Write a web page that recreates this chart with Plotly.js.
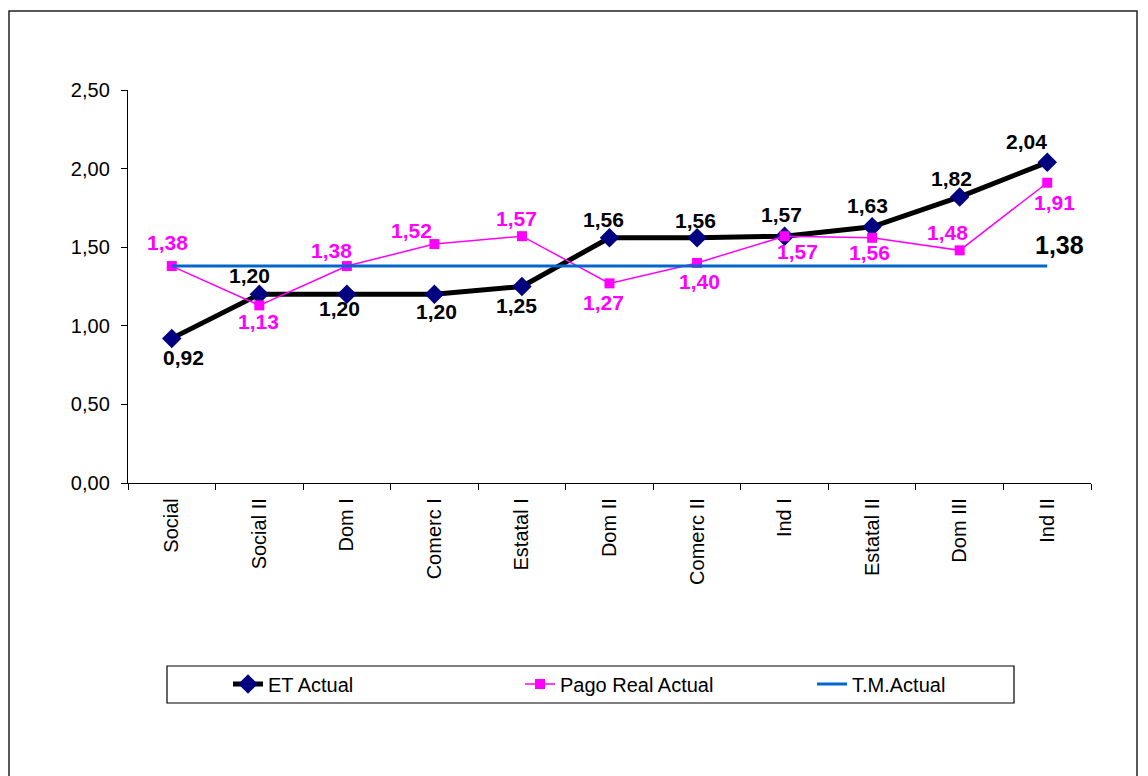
<!DOCTYPE html>
<html>
<head>
<meta charset="utf-8">
<script src="https://cdn.plot.ly/plotly-3.0.1.min.js"></script>
<style>
  html, body { margin: 0; padding: 0; background: #fff; }
  #chart { width: 1148px; height: 776px; }
</style>
</head>
<body>
<div id="chart"></div>
<script>
const categories = ["Social", "Social II", "Dom I", "Comerc I", "Estatal I", "Dom II", "Comerc II", "Ind I", "Estatal II", "Dom III", "Ind II"];
const etActual = [0.92, 1.20, 1.20, 1.20, 1.25, 1.56, 1.56, 1.57, 1.63, 1.82, 2.04];
const pagoRealActual = [1.38, 1.13, 1.38, 1.52, 1.57, 1.27, 1.40, 1.57, 1.56, 1.48, 1.91];
const tmActual = [1.38, 1.38, 1.38, 1.38, 1.38, 1.38, 1.38, 1.38, 1.38, 1.38, 1.38];
const yTicks = [0, 0.5, 1.0, 1.5, 2.0, 2.5];

// label offsets (screen px: dx right, dy down)
const etLabelDx = [12, -10, -7, 2, -5, -6, -2, -3, -5, -8, -21];
const etLabelDy = [19, -19, 14, 17, 19, -18, -17, -22, -21, -18, -21];
const pagoLabelDx = [-4, -1, -15, -23, -5, -6, 2, 13, -3, -12, 7];
const pagoLabelDy = [-24, 16, -16, -14, -18, 19, 19, 15, 15, -18, 20];

const FONT = "Liberation Sans, Arial, sans-serif";
const fmt = v => v.toFixed(2).replace('.', ',');

const traces = [
  {
    x: categories, y: etActual, name: "ET Actual", type: "scatter", mode: "lines+markers",
    line: {color: "#000000", width: 5},
    marker: {symbol: "diamond", size: 15, color: "#000080"}
  },
  {
    x: categories, y: pagoRealActual, name: "Pago Real Actual", type: "scatter", mode: "lines+markers",
    line: {color: "#FF00FF", width: 1.5},
    marker: {symbol: "square", size: 10, color: "#FF00FF"}
  },
  {
    x: categories, y: tmActual, name: "T.M.Actual", type: "scatter", mode: "lines",
    line: {color: "#0066CC", width: 3}
  }
];

const annotations = [];
categories.forEach((c, i) => {
  annotations.push({
    x: c, y: etActual[i], xref: "x", yref: "y", text: fmt(etActual[i]), showarrow: false,
    xshift: etLabelDx[i], yshift: -etLabelDy[i],
    font: {family: FONT, size: 21, color: "#000000", weight: "bold"}
  });
  annotations.push({
    x: c, y: pagoRealActual[i], xref: "x", yref: "y", text: fmt(pagoRealActual[i]), showarrow: false,
    xshift: pagoLabelDx[i], yshift: -pagoLabelDy[i],
    font: {family: FONT, size: 21, color: "#FF00FF", weight: "bold"}
  });
});
const last = categories.length - 1;
annotations.push({
  x: categories[last], y: tmActual[last], xref: "x", yref: "y", text: fmt(tmActual[last]), showarrow: false,
  xshift: 12, yshift: 21,
  font: {family: FONT, size: 25, color: "#000000", weight: "bold"}
});

const layout = {
  width: 1148, height: 776,
  margin: {l: 128, r: 57, t: 90, b: 293},
  paper_bgcolor: "#ffffff", plot_bgcolor: "#ffffff",
  separators: ",.",
  font: {family: FONT, size: 20, color: "#000000"},
  showlegend: true,
  legend: {
    orientation: "h", x: (228 - 128) / 963, xanchor: "left", y: -0.462, yanchor: "top",
    entrywidth: 247, entrywidthmode: "pixels",
    bgcolor: "rgba(0,0,0,0)", borderwidth: 0,
    font: {family: FONT, size: 20, color: "#000000"}
  },
  xaxis: {
    type: "category", showgrid: false, zeroline: false,
    showline: true, linecolor: "#000000", linewidth: 1.2,
    ticks: "outside", tickson: "boundaries", ticklen: 6, tickcolor: "#000000",
    ticklabelstandoff: 6,
    tickangle: -90, tickfont: {family: FONT, size: 20, color: "#000000"},
    range: [-0.5, categories.length - 0.5]
  },
  yaxis: {
    range: [0, 2.5], tickvals: yTicks, tickformat: ".2f",
    showgrid: false, zeroline: false,
    showline: true, linecolor: "#000000", linewidth: 1.2,
    ticks: "outside", ticklen: 6, tickcolor: "#000000",
    ticklabelstandoff: 7,
    tickfont: {family: FONT, size: 20, color: "#000000"}
  },
  annotations: annotations,
  shapes: [
    {type: "rect", xref: "paper", yref: "paper",
     x0: (9 - 128) / 963, x1: (1137 - 128) / 963, y0: (483 - 800) / 393, y1: (483 - 11) / 393,
     line: {color: "#222222", width: 1.5}, fillcolor: "rgba(0,0,0,0)"},
    {type: "rect", xref: "paper", yref: "paper",
     x0: (167 - 128) / 963, x1: (1014 - 128) / 963, y0: (483 - 703) / 393, y1: (483 - 666) / 393,
     line: {color: "#000000", width: 1.2}, fillcolor: "rgba(0,0,0,0)"}
  ]
};

Plotly.newPlot("chart", traces, layout, {displayModeBar: false, staticPlot: true});
</script>
</body>
</html>
